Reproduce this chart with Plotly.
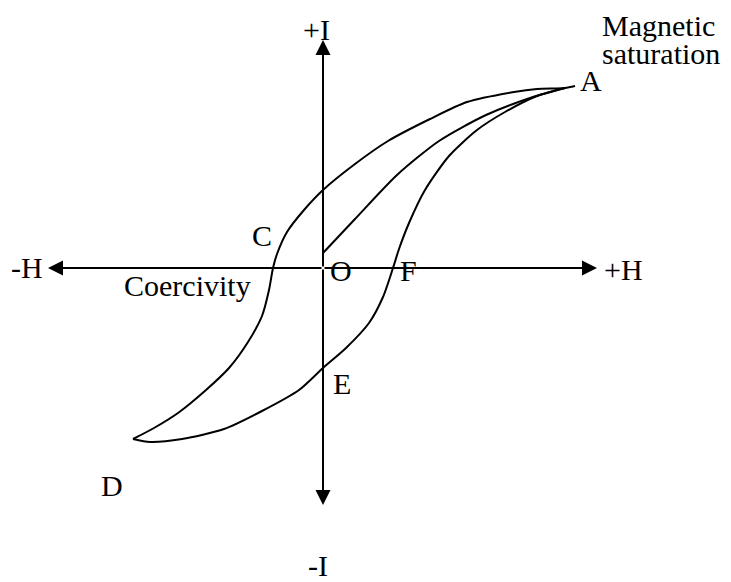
import plotly.graph_objects as go

# Hysteresis loop data (H = field, I = intensity of magnetisation), arbitrary units
upper_H = [2.52, 2.42, 2.14, 1.91, 1.44, 1.07, 0.65, 0.32, 0.00, -0.19, -0.36, -0.46, -0.50,
           -0.54, -0.61, -0.75, -0.94, -1.17, -1.45, -1.69, -1.90]
upper_I = [1.82, 1.80, 1.79, 1.76, 1.66, 1.49, 1.27, 1.04, 0.78, 0.58, 0.36, 0.14, 0.00,
           -0.22, -0.48, -0.74, -1.00, -1.22, -1.45, -1.60, -1.71]

lower_H = [-1.90, -1.73, -1.41, -0.99, -0.61, -0.24, 0.00, 0.23, 0.46, 0.60, 0.70, 0.76,
           0.86, 1.02, 1.26, 1.54, 1.82, 2.14, 2.42]
lower_I = [-1.71, -1.74, -1.71, -1.61, -1.43, -1.22, -1.00, -0.80, -0.55, -0.29, 0.00, 0.19,
           0.45, 0.78, 1.12, 1.38, 1.56, 1.72, 1.80]

initial_H = [0.00, 0.32, 0.74, 1.16, 1.63, 2.10, 2.42]
initial_I = [0.15, 0.49, 0.93, 1.27, 1.53, 1.71, 1.80]

# axis arrow tips
axis_H_min, axis_H_max = -2.75, 2.74
axis_I_min, axis_I_max = -2.37, 2.28

# labels: text, H, I, anchor
labels = [
    ("+I", -0.07, 2.39, "center"),
    ("-I", -0.05, -2.97, "center"),
    ("-H", -2.96, 0.01, "center"),
    ("+H", 3.00, -0.01, "center"),
    ("Magnetic", 2.77, 2.43, "left"),
    ("saturation", 2.77, 2.15, "left"),
    ("A", 2.68, 1.88, "center"),
    ("C", -0.61, 0.33, "center"),
    ("O", 0.18, -0.02, "center"),
    ("F", 0.85, -0.02, "center"),
    ("Coercivity", -1.355, -0.17, "center"),
    ("E", 0.19, -1.15, "center"),
    ("D", -2.11, -2.17, "center"),
]

FONT = "Liberation Serif, Times New Roman, serif"

fig = go.Figure()
for hx, iy in [(upper_H, upper_I), (lower_H, lower_I), (initial_H, initial_I)]:
    fig.add_trace(go.Scatter(x=hx, y=iy, mode="lines",
                             line=dict(color="black", width=2, shape="spline", smoothing=0.7),
                             hoverinfo="skip", showlegend=False))

for tip in [(axis_H_max, 0), (axis_H_min, 0), (0, axis_I_max), (0, axis_I_min)]:
    fig.add_annotation(x=tip[0], y=tip[1], ax=0, ay=0, xref="x", yref="y",
                       axref="x", ayref="y", text="", showarrow=True,
                       arrowhead=2, arrowsize=1.5, arrowwidth=2, arrowcolor="black",
                       standoff=0, startstandoff=0)

for txt, hx, iy, anc in labels:
    fig.add_annotation(x=hx, y=iy, xref="x", yref="y", text=txt, showarrow=False,
                       xanchor=anc, yanchor="middle",
                       font=dict(family=FONT, size=30, color="black"))

fig.update_layout(
    width=731, height=582,
    margin=dict(l=0, r=0, t=0, b=0),
    paper_bgcolor="white", plot_bgcolor="white",
    xaxis=dict(range=[-3.15, 4.16], visible=False, fixedrange=True),
    yaxis=dict(range=[-3.22, 2.60], visible=False, fixedrange=True),
    showlegend=False,
)

fig.write_html("out.html")
